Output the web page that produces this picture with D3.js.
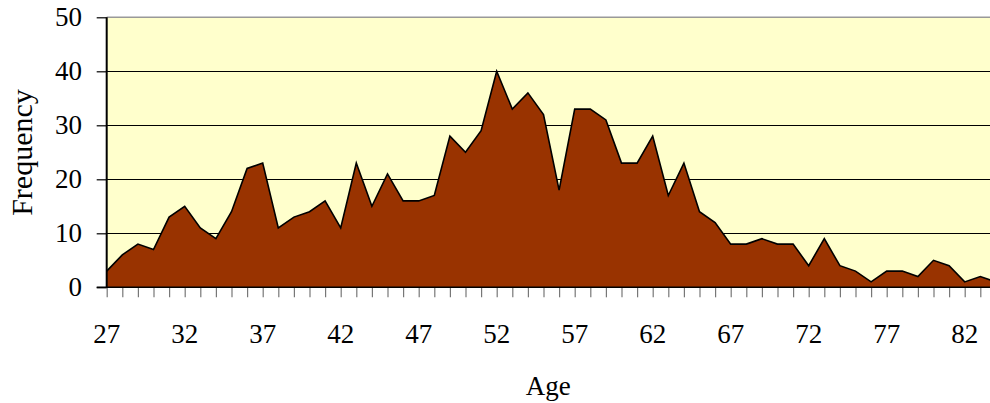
<!DOCTYPE html>
<html><head><meta charset="utf-8">
<script src="https://cdn.jsdelivr.net/npm/d3@7"></script>
<style>html,body{margin:0;padding:0;background:#fff;overflow:hidden}</style>
</head><body>
<svg id="chart" width="990" height="403"></svg>
<script>
const ages = d3.range(27, 85);
const frequency = [3,6,8,7,13,15,11,9,14,22,23,11,13,14,16,11,23,15,21,16,16,17,28,25,29,40,33,36,32,18,33,33,31,23,23,28,17,23,14,12,8,8,9,8,8,4,9,4,3,1,3,3,2,5,4,1,2,1];
const yTicks = [0,10,20,30,40,50];
const xTickLabels = [27,32,37,42,47,52,57,62,67,72,77,82];

(function(){
const svg = d3.select("#chart");
const pLeft = 106.7, pTop = 17.3, pBottom = 287.3, step = 15.6;
const x = d3.scaleLinear().domain([27, 84]).range([pLeft, pLeft + 57*step]);
const y = d3.scaleLinear().domain([0, 50]).range([pBottom, pTop]);
const pRight = 1000;
const font = "'Liberation Serif','Times New Roman',serif";

svg.append("rect").attr("x", pLeft).attr("y", pTop).attr("width", pRight-pLeft).attr("height", pBottom-pTop).attr("fill", "#FFFFCC");

// gridlines
svg.append("g").selectAll("line").data(yTicks.filter(d => d>0 && d<50)).join("line")
  .attr("x1", pLeft).attr("x2", pRight).attr("y1", d=>y(d)).attr("y2", d=>y(d))
  .attr("stroke", "#000").attr("stroke-width", 1).attr("shape-rendering","crispEdges");
svg.append("line").attr("x1", pLeft).attr("x2", pRight).attr("y1", y(50)).attr("y2", y(50))
  .attr("stroke", "#999").attr("stroke-width", 1.5);

// area
const area = d3.area().x((d,i)=>x(ages[i])).y0(y(0)).y1(d=>y(d));
const line = d3.line().x((d,i)=>x(ages[i])).y(d=>y(d));
svg.append("path").datum(frequency).attr("d", area).attr("fill", "#993300");
svg.append("path").datum(frequency).attr("d", line).attr("fill", "none").attr("stroke", "#000").attr("stroke-width", 1.6).attr("stroke-linejoin","miter");

// x axis
const xAxis = d3.axisBottom(x).tickValues(ages).tickSize(10).tickFormat("");
const gx = svg.append("g").attr("transform", `translate(0,${pBottom})`).call(xAxis);
gx.select(".domain").remove();
gx.selectAll(".tick line").attr("stroke", "#777").attr("stroke-width", 1.2);
svg.append("line").attr("x1", pLeft-10).attr("x2", pRight).attr("y1", pBottom).attr("y2", pBottom).attr("stroke","#000").attr("stroke-width",1.5);
svg.append("g").selectAll("text").data(xTickLabels).join("text")
  .attr("x", d=>x(d)).attr("y", 343).attr("text-anchor","middle")
  .attr("font-family", font).attr("font-size", 27).attr("fill","#000").text(d=>d);

// y axis
const yAxis = d3.axisLeft(y).tickValues(yTicks).tickSize(10).tickFormat("");
const gy = svg.append("g").attr("transform", `translate(${pLeft},0)`).call(yAxis);
gy.select(".domain").remove();
gy.selectAll(".tick line").attr("stroke", "#000").attr("stroke-width", 1.2);
svg.append("line").attr("x1", pLeft).attr("x2", pLeft).attr("y1", pTop).attr("y2", pBottom).attr("stroke","#000").attr("stroke-width",2);
svg.append("g").selectAll("text").data(yTicks).join("text")
  .attr("x", 82).attr("y", d=>y(d)).attr("dy","0.34em").attr("text-anchor","end")
  .attr("font-family", font).attr("font-size", 27).attr("fill","#000").text(d=>d);

svg.append("text").attr("x", (pLeft+990)/2).attr("y", 395).attr("text-anchor","middle")
  .attr("font-family", font).attr("font-size", 27).text("Age");
svg.append("text").attr("transform", "translate(32,152.5) rotate(-90)").attr("text-anchor","middle")
  .attr("font-family", font).attr("font-size", 30).text("Frequency");
})();
</script>
</body></html>
